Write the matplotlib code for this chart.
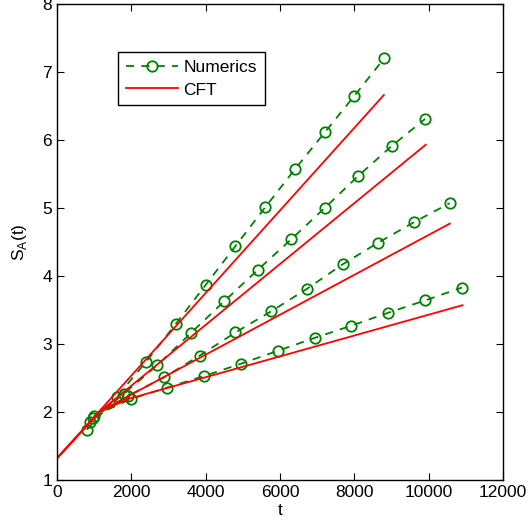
import matplotlib
matplotlib.use("Agg")
import matplotlib.pyplot as plt

plt.rcParams["font.family"] = ["Liberation Sans", "DejaVu Sans"]

# numerics (green dashed, circles), one list per curve
t_num1 = [800, 1600, 2400, 3200, 4000, 4800, 5600, 6400, 7200, 8000, 8800]
s_num1 = [1.74, 2.22, 2.74, 3.30, 3.87, 4.44, 5.01, 5.57, 6.11, 6.65, 7.20]
t_num2 = [900, 1800, 2700, 3600, 4500, 5400, 6300, 7200, 8100, 9000, 9900]
s_num2 = [1.86, 2.27, 2.69, 3.16, 3.63, 4.09, 4.54, 5.00, 5.47, 5.91, 6.31]
t_num3 = [960, 1920, 2880, 3840, 4800, 5760, 6720, 7680, 8640, 9600, 10560]
s_num3 = [1.91, 2.24, 2.51, 2.83, 3.17, 3.48, 3.81, 4.17, 4.49, 4.79, 5.07]
t_num4 = [990, 1980, 2970, 3960, 4950, 5940, 6930, 7920, 8910, 9900, 10890]
s_num4 = [1.94, 2.19, 2.36, 2.53, 2.71, 2.90, 3.09, 3.27, 3.46, 3.64, 3.83]

# CFT curves (red solid)
t_cft1 = [0, 8790]
s_cft1 = [1.32, 6.66]
t_cft2 = [0, 1158, 9917]
s_cft2 = [1.32, 2.01, 5.93]
t_cft3 = [0, 1158, 10564]
s_cft3 = [1.32, 2.01, 4.77]
t_cft4 = [0, 1158, 1966, 10905]
s_cft4 = [1.32, 2.01, 2.20, 3.57]

numerics = [(t_num1, s_num1), (t_num2, s_num2), (t_num3, s_num3), (t_num4, s_num4)]
cft = [(t_cft1, s_cft1), (t_cft2, s_cft2), (t_cft3, s_cft3), (t_cft4, s_cft4)]

green = "#008000"

fig = plt.figure(figsize=(5.28, 5.29), dpi=100)
ax = fig.add_axes([0.108, 0.0926, 0.845, 0.9])

for i, (t, s) in enumerate(numerics):
    ax.plot(t, s, linestyle="--", color=green, marker="o", markersize=7.5,
            markerfacecolor="none", markeredgewidth=1.3, linewidth=1.3,
            dashes=(4.5, 4), label="Numerics" if i == 0 else None)
for i, (t, s) in enumerate(cft):
    ax.plot(t, s, "-", color="red", linewidth=1.3,
            label="CFT" if i == 0 else None)

ax.set_xlim(0, 12000)
ax.set_ylim(1, 8)
ax.set_xticks(range(0, 12001, 2000))
ax.set_yticks(range(1, 9))
ax.tick_params(direction="in", top=True, right=True, labelsize=12.5, length=5)
for sp in ax.spines.values():
    sp.set_linewidth(1.0)

ax.set_xlabel("t", fontsize=12.5, labelpad=2)
ax.set_ylabel("S$_\\mathregular{A}$(t)", fontsize=12.5, labelpad=10)

leg = ax.legend(loc="upper left", bbox_to_anchor=(0.137, 0.898), fontsize=12.5,
                fancybox=False, framealpha=1, edgecolor="black",
                handlelength=3.0, numpoints=1, borderpad=0.45, borderaxespad=0,
                labelspacing=0.4, handletextpad=0.3)
leg.get_frame().set_linewidth(1.0)

fig.savefig("out.png", dpi=100)
